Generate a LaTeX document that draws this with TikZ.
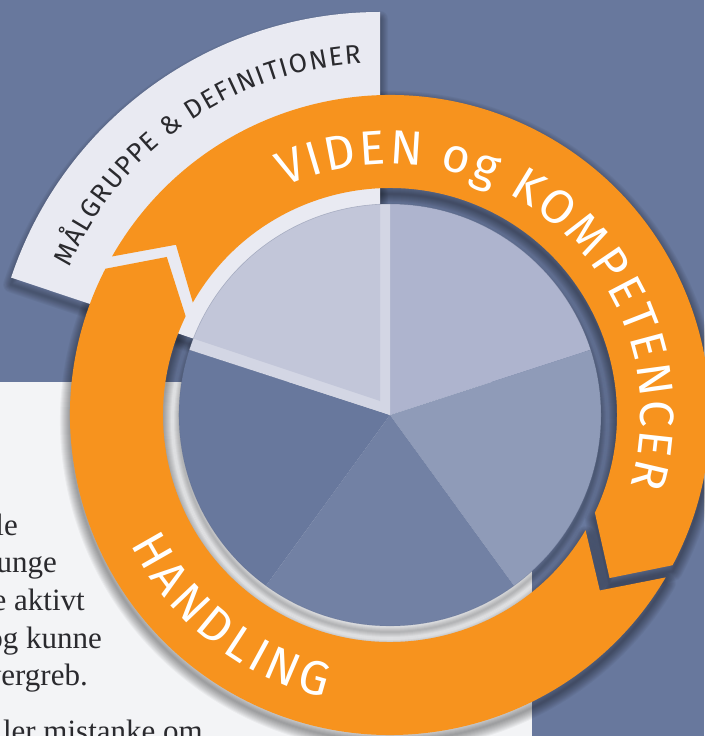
\documentclass[tikz,border=0pt]{standalone}
\usepackage{fontspec}
\setmainfont{Liberation Serif}
\newfontfamily\ringfont{Fira Sans}
\usetikzlibrary{decorations.text}
\definecolor{slate}{HTML}{68789D}
\definecolor{panel}{HTML}{F3F4F6}
\definecolor{band}{HTML}{E9EAF2}
\definecolor{ringorange}{HTML}{F7931E}
\definecolor{pA}{HTML}{AEB4CE}
\definecolor{pB}{HTML}{8F9BB8}
\definecolor{pC}{HTML}{7281A4}
\definecolor{pD}{HTML}{68789D}
\definecolor{pE}{HTML}{D3D6E4}
\definecolor{pEin}{HTML}{C2C6D9}
\definecolor{textdark}{HTML}{2A2A2E}
\newcommand\ringVpath{(150.3:320) -- (141.5:273.5) -- (150.3:227) arc[start angle=150.3, end angle=-25.5, radius=227] -- (-36.6:273.5) -- (-28:320) arc[start angle=-28, end angle=150.3, radius=320] -- cycle}
\newcommand\ringHpath{(-30.5:320) -- (-39.9:273.5) -- (-30.5:227) arc[start angle=-30.5, end angle=-205.8, radius=227] -- (-215.3:273.5) -- (-207.2:320) arc[start angle=-207.2, end angle=-30.5, radius=320] -- cycle}
\newcommand\bandpath{(-10,14) -- (-10,403) arc[start angle=90, end angle=161.5, radius=389] -- cycle}
\tikzset{
  shadowlayer/.style={draw=black, draw opacity=0.038, line width=#1, line join=round},
  paneltext/.style={anchor=base east, inner sep=0pt, text=textdark, font=\fontsize{31}{37}\selectfont},
}
\begin{document}
\begin{tikzpicture}[x=1pt,y=1pt]
\useasboundingbox (-390,-321) rectangle (314,415);
% background
\fill[slate] (-390,-321) rectangle (314,415);
\fill[panel] (-390,-321) rectangle (142,33);
% panel text
\node[paneltext] (t1) at (-372,-120) {le};
\node[paneltext] (t2) at (-333,-157) {unge};
\node[paneltext] (t3) at (-305,-195) {e aktivt};
\node[paneltext] (t4) at (-288,-233) {og kunne};
\node[paneltext] (t5) at (-302,-270) {vergreb.};
\node[paneltext] (t6) at (-187,-326) {ller mistanke om};
% ring shadows (under everything else)
\foreach \w in {2,4,...,20} {
  \path[shadowlayer=\w, yshift=-6] \ringVpath;
  \path[shadowlayer=\w, yshift=-6] \ringHpath;
}
% pie shadow
\foreach \w in {2,4,...,14} {\path[shadowlayer=\w, yshift=-6] (0,0) circle (211);}
% band
\foreach \w in {2,4,...,16} {\path[shadowlayer=\w, yshift=-7] \bandpath;}
\fill[band] \bandpath;
% pie
\fill[pA] (0,0) -- (18:211) arc[start angle=18, end angle=90, radius=211] -- cycle;
\fill[pB] (0,0) -- (-54:211) arc[start angle=-54, end angle=18, radius=211] -- cycle;
\fill[pC] (0,0) -- (-126:211) arc[start angle=-126, end angle=-54, radius=211] -- cycle;
\fill[pD] (0,0) -- (162:211) arc[start angle=162, end angle=234, radius=211] -- cycle;
\fill[pE] (0,0) -- (90:211) arc[start angle=90, end angle=162, radius=211] -- cycle;
\begin{scope}
  \clip (0,0) circle (211);
  \fill[pEin] \bandpath;
\end{scope}
\draw[pC!80!black, draw opacity=0.3, line width=0.6] (0,0) circle (211);
% ring
\fill[ringorange] \ringVpath;
\fill[ringorange] \ringHpath;
% texts
\path[decorate, decoration={text along path, text align=fit to path,
  text={|\ringfont\fontsize{48}{52}\selectfont\color{white}|VIDEN og KOMPETENCER}}]
  (114.8:251) arc[start angle=114.8, end angle=-16.4, radius=251];
\path[decorate, decoration={text along path, text align=fit to path,
  text={|\ringfont\fontsize{48}{52}\selectfont\color{white}|HANDLING}}]
  (-153.5:290) arc[start angle=-153.5, end angle=-103, radius=290];
\path[shift={(-10,14)}, decorate, decoration={text along path, text align=fit to path,
  text={|\ringfont\fontsize{26.5}{30}\selectfont\color{textdark}|MÅLGRUPPE {\&} DEFINITIONER}}]
  (156.8:338) arc[start angle=156.8, end angle=93.2, radius=338];
\end{tikzpicture}
\end{document}
